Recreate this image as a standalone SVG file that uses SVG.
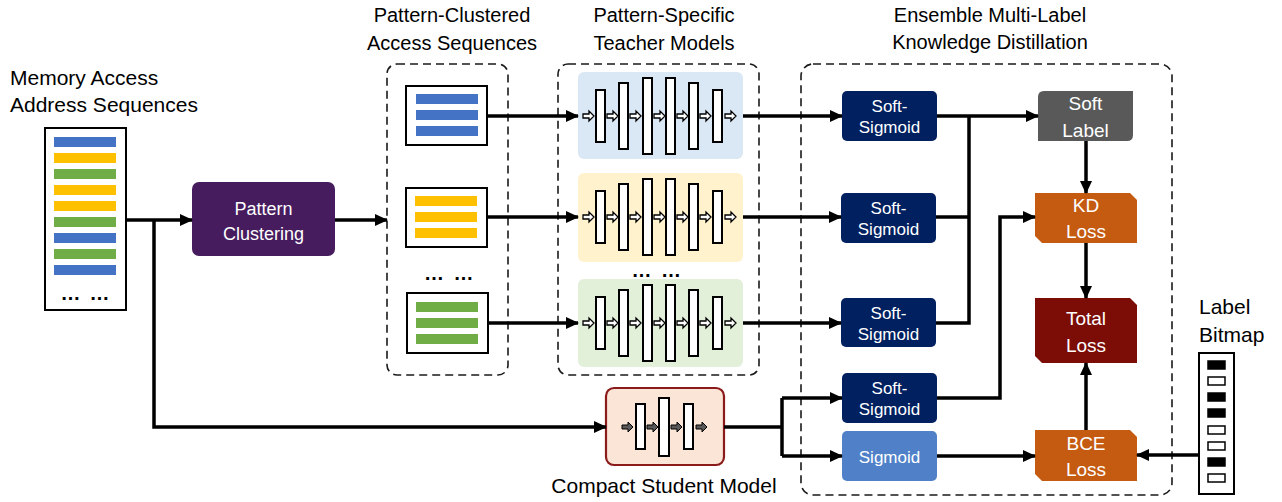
<svg xmlns="http://www.w3.org/2000/svg" width="1282" height="502" viewBox="0 0 1282 502">
<style>
text{font-family:"Liberation Sans",Arial,sans-serif;}
.t{font-size:20px;fill:#000;text-anchor:middle}
.lt{font-size:21px;fill:#000}
.wt{fill:#fff;text-anchor:middle;font-size:17px}
.wl{fill:#fff;text-anchor:middle;font-size:19px}
.dash{fill:none;stroke:#1a1a1a;stroke-width:1.6;stroke-dasharray:8 5}
.seq{fill:#fff;stroke:#000;stroke-width:2}
.conn{fill:none;stroke:#000;stroke-width:3.5;stroke-linejoin:miter}
.bar{fill:#fff;stroke:#000;stroke-width:2}
.dots{font-size:20px;font-weight:bold;text-anchor:middle;fill:#000}
.ss{fill:#002060}
.blue{fill:#4472c4}.yel{fill:#ffc000}.grn{fill:#70ad47}
.ha{fill:#fff;stroke:#000;stroke-width:1.3}
.ga{fill:#595959;stroke:#000;stroke-width:1}
.bit{stroke:#000;stroke-width:1.5}
</style>
<defs>
<marker id="ah" markerUnits="userSpaceOnUse" markerWidth="13" markerHeight="12" refX="12" refY="6" orient="auto"><path d="M0,0 L13,6 L0,12 Z" fill="#000"/></marker>
<path id="sa" d="M0,-2 H6 V-5 L11,0 L6,5 V2 H0 Z"/>
<g id="tl">
<rect class="bar" x="596" y="-26" width="9" height="52"/>
<rect class="bar" x="619" y="-33" width="9" height="66"/>
<rect class="bar" x="643" y="-38" width="9" height="76"/>
<rect class="bar" x="666" y="-38" width="9" height="76"/>
<rect class="bar" x="689" y="-33" width="9" height="66"/>
<rect class="bar" x="713" y="-26" width="9" height="52"/>
<use href="#sa" x="583" class="ha"/>
<use href="#sa" x="607" class="ha"/>
<use href="#sa" x="630" class="ha"/>
<use href="#sa" x="654" class="ha"/>
<use href="#sa" x="677" class="ha"/>
<use href="#sa" x="700" class="ha"/>
<use href="#sa" x="725" class="ha"/>
</g>
</defs>

<rect width="1282" height="502" fill="#fff"/>

<!-- titles -->
<text class="lt" x="10" y="85">Memory Access</text>
<text class="lt" x="10" y="112">Address Sequences</text>
<text class="t" x="452" y="22">Pattern-Clustered</text>
<text class="t" x="452" y="50">Access Sequences</text>
<text class="t" x="664" y="22">Pattern-Specific</text>
<text class="t" x="664" y="50">Teacher Models</text>
<text class="t" x="990" y="22">Ensemble Multi-Label</text>
<text class="t" x="990" y="49">Knowledge Distillation</text>

<!-- dashed groups -->
<rect class="dash" x="387" y="64" width="121" height="311" rx="10"/>
<rect class="dash" x="558" y="64" width="201" height="311" rx="10"/>
<rect class="dash" x="801" y="64" width="371" height="431" rx="12"/>

<g id="input-sequences">
<rect class="seq" x="45" y="128" width="81" height="182"/>
<rect class="blue" x="54" y="137" width="62" height="10"/>
<rect class="yel" x="54" y="153" width="62" height="10"/>
<rect class="grn" x="54" y="169" width="62" height="10"/>
<rect class="yel" x="54" y="185" width="62" height="10"/>
<rect class="yel" x="54" y="201" width="62" height="10"/>
<rect class="grn" x="54" y="217" width="62" height="10"/>
<rect class="blue" x="54" y="233" width="62" height="10"/>
<rect class="grn" x="54" y="249" width="62" height="10"/>
<rect class="blue" x="54" y="265" width="62" height="10"/>
<text class="dots" x="70.5" y="300">…</text>
<text class="dots" x="99.5" y="300">…</text>
</g>

<g id="pattern-clustering">
<rect x="192" y="182" width="143" height="74" rx="7" fill="#461c5e"/>
<text class="wl" x="263.5" y="215" style="font-size:18px">Pattern</text>
<text class="wl" x="263.5" y="240" style="font-size:18px">Clustering</text>
</g>

<g id="seq-blue">
<rect class="seq" x="406" y="86" width="81" height="59"/>
<rect class="blue" x="416" y="94" width="62" height="10"/>
<rect class="blue" x="416" y="110" width="62" height="10"/>
<rect class="blue" x="416" y="126" width="62" height="10"/>
</g>
<g id="seq-yellow">
<rect class="seq" x="406" y="188" width="81" height="59"/>
<rect class="yel" x="415" y="196" width="62" height="10"/>
<rect class="yel" x="415" y="212" width="62" height="10"/>
<rect class="yel" x="415" y="228" width="62" height="10"/>
</g>
<text class="dots" x="434" y="280">…</text>
<text class="dots" x="463.5" y="280">…</text>
<g id="seq-green">
<rect class="seq" x="407" y="293" width="81" height="60"/>
<rect class="grn" x="416" y="302" width="62" height="10"/>
<rect class="grn" x="416" y="318" width="62" height="10"/>
<rect class="grn" x="416" y="334" width="62" height="10"/>
</g>

<g id="teacher-1">
<rect x="578" y="72" width="165" height="87" rx="6" fill="#dae8f5"/>
<use href="#tl" transform="translate(0,116)"/>
</g>
<g id="teacher-2">
<rect x="578" y="173" width="165" height="89" rx="6" fill="#fff2cc"/>
<use href="#tl" transform="translate(0,217)"/>
</g>
<text class="dots" x="641.5" y="277">…</text>
<text class="dots" x="671" y="277">…</text>
<g id="teacher-3">
<rect x="578" y="279" width="165" height="88" rx="6" fill="#e2efd9"/>
<use href="#tl" transform="translate(0,323)"/>
</g>

<g id="student">
<rect x="606" y="388" width="118" height="77" rx="8" fill="#fbe5d6" stroke="#8b1a1a" stroke-width="2.2"/>
<rect class="bar" x="636" y="404" width="9" height="45"/>
<rect class="bar" x="659" y="398" width="10" height="58"/>
<rect class="bar" x="684" y="404" width="9" height="45"/>
<use href="#sa" x="622" y="427" class="ga"/>
<use href="#sa" x="647" y="427" class="ga"/>
<use href="#sa" x="671" y="427" class="ga"/>
<use href="#sa" x="696" y="427" class="ga"/>
<text class="lt" x="664" y="493" text-anchor="middle">Compact Student Model</text>
</g>

<g id="soft-sigmoid-1">
<rect class="ss" x="842" y="91" width="95" height="50" rx="5"/>
<text class="wt" x="889.5" y="112">Soft-</text>
<text class="wt" x="889.5" y="133">Sigmoid</text>
</g>
<g id="soft-sigmoid-2">
<rect class="ss" x="841" y="193" width="95" height="50" rx="5"/>
<text class="wt" x="888.5" y="214">Soft-</text>
<text class="wt" x="888.5" y="235">Sigmoid</text>
</g>
<g id="soft-sigmoid-3">
<rect class="ss" x="841" y="298" width="95" height="49" rx="5"/>
<text class="wt" x="888.5" y="319">Soft-</text>
<text class="wt" x="888.5" y="340">Sigmoid</text>
</g>
<g id="soft-sigmoid-4">
<rect class="ss" x="842" y="373" width="95" height="50" rx="5"/>
<text class="wt" x="889.5" y="394">Soft-</text>
<text class="wt" x="889.5" y="415">Sigmoid</text>
</g>
<g id="sigmoid">
<rect x="842" y="431" width="95" height="50" rx="5" fill="#5081c8"/>
<text class="wt" x="889.5" y="463">Sigmoid</text>
</g>

<g id="soft-label">
<path d="M1044,91 H1133 V135 Q1133,141 1127,141 H1038 V97 Q1038,91 1044,91 Z" fill="#595959"/>
<text class="wl" x="1085.5" y="110">Soft</text>
<text class="wl" x="1085.5" y="137">Label</text>
</g>
<g id="kd-loss">
<path d="M1035,193 H1130 L1137,200 V243 H1042 L1035,236 Z" fill="#c55a11"/>
<text class="wl" x="1086" y="212">KD</text>
<text class="wl" x="1086" y="238">Loss</text>
</g>
<g id="total-loss">
<path d="M1035,298 H1130 L1137,305 V363 H1042 L1035,356 Z" fill="#7b0c06"/>
<text class="wl" x="1086" y="325">Total</text>
<text class="wl" x="1086" y="352">Loss</text>
</g>
<g id="bce-loss">
<path d="M1035,430 H1130 L1137,437 V481 H1042 L1035,474 Z" fill="#c55a11"/>
<text class="wl" x="1086" y="450">BCE</text>
<text class="wl" x="1086" y="476">Loss</text>
</g>

<g id="label-bitmap">
<text class="lt" x="1199" y="314">Label</text>
<text class="lt" x="1199" y="342">Bitmap</text>
<rect class="seq" x="1199" y="353" width="35" height="141"/>
<rect class="bit" x="1208" y="361" width="17" height="8" fill="#000"/>
<rect class="bit" x="1208" y="377" width="17" height="8" fill="#fff"/>
<rect class="bit" x="1208" y="393" width="17" height="8" fill="#000"/>
<rect class="bit" x="1208" y="409" width="17" height="8" fill="#000"/>
<rect class="bit" x="1208" y="426" width="17" height="8" fill="#fff"/>
<rect class="bit" x="1208" y="442" width="17" height="8" fill="#fff"/>
<rect class="bit" x="1208" y="458" width="17" height="8" fill="#000"/>
<rect class="bit" x="1208" y="474" width="17" height="8" fill="#fff"/>
</g>

<g id="connectors" class="conn">
<path d="M126,220 H192" marker-end="url(#ah)"/>
<path d="M154,220 V427 H606" marker-end="url(#ah)"/>
<path d="M335,220 H387" marker-end="url(#ah)"/>
<path d="M487,116 H578" marker-end="url(#ah)"/>
<path d="M487,217 H578" marker-end="url(#ah)"/>
<path d="M488,323 H578" marker-end="url(#ah)"/>
<path d="M743,116 H842" marker-end="url(#ah)"/>
<path d="M743,217 H841" marker-end="url(#ah)"/>
<path d="M743,323 H841" marker-end="url(#ah)"/>
<path d="M937,116 H1038" marker-end="url(#ah)"/>
<path d="M936,217 H969"/>
<path d="M936,323 H969 V116"/>
<path d="M1086,141 V193" marker-end="url(#ah)"/>
<path d="M1086,243 V298" marker-end="url(#ah)"/>
<path d="M1086,430 V363" marker-end="url(#ah)"/>
<path d="M937,398 H1000 V217 H1035" marker-end="url(#ah)"/>
<path d="M937,456 H1035" marker-end="url(#ah)"/>
<path d="M1199,455 H1137" marker-end="url(#ah)"/>
<path d="M724,427 H782"/>
<path d="M782,398 H842" marker-end="url(#ah)"/>
<path d="M782,456 H842" marker-end="url(#ah)"/>
<path d="M782,398 V456"/>
</g>
</svg>
